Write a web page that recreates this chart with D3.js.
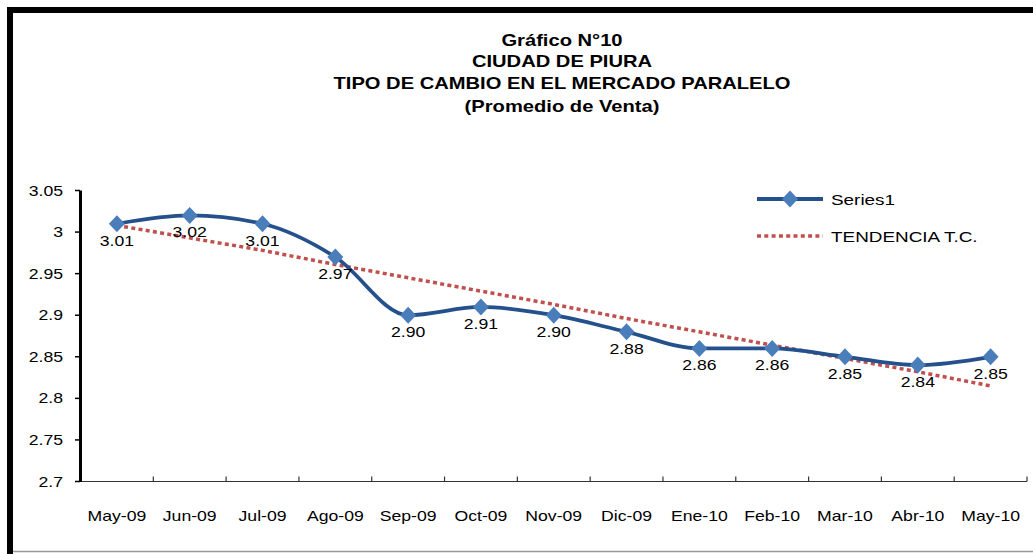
<!DOCTYPE html>
<html>
<head>
<meta charset="utf-8">
<script src="https://cdn.jsdelivr.net/npm/d3@7"></script>
<style>
  html, body { margin: 0; padding: 0; background: #fff; }
  svg { display: block; font-family: "Liberation Sans", Arial, sans-serif; }
</style>
</head>
<body>
<svg id="chart" width="1033" height="554"></svg>
<script>
const categories = ["May-09","Jun-09","Jul-09","Ago-09","Sep-09","Oct-09","Nov-09","Dic-09","Ene-10","Feb-10","Mar-10","Abr-10","May-10"];
const series1 = [3.01, 3.02, 3.01, 2.97, 2.90, 2.91, 2.90, 2.88, 2.86, 2.86, 2.85, 2.84, 2.85];
const seriesLabels = ["3.01","3.02","3.01","2.97","2.90","2.91","2.90","2.88","2.86","2.86","2.85","2.84","2.85"];
const trend = [3.008, 2.993, 2.978, 2.961, 2.945, 2.929, 2.913, 2.896, 2.880, 2.864, 2.848, 2.832, 2.815];
const yTicks = [2.7, 2.75, 2.8, 2.85, 2.9, 2.95, 3, 3.05];
const titleLines = ["Gráfico N°10", "CIUDAD DE PIURA", "TIPO DE CAMBIO EN EL MERCADO PARALELO", "(Promedio de Venta)"];
const legendNames = ["Series1", "TENDENCIA T.C."];

const SX = 1.26; // horizontal stretch of the original text rendering
const svg = d3.select("#chart");

function stext(g, x, y, str, opts) {
  return g.append("text")
    .attr("transform", `translate(${x},${y}) scale(${SX},1)`)
    .attr("x", 0).attr("y", 0)
    .attr("font-size", opts.size || 14)
    .attr("font-weight", opts.weight || "normal")
    .attr("text-anchor", opts.anchor || "middle")
    .attr("fill", opts.fill || "#000")
    .text(str);
}

// frame
svg.append("rect").attr("x", 7).attr("y", 7).attr("width", 1040).attr("height", 6).attr("fill", "#000");
svg.append("rect").attr("x", 7).attr("y", 7).attr("width", 6).attr("height", 560).attr("fill", "#000");
svg.append("line").attr("x1", 13).attr("x2", 1033).attr("y1", 551.5).attr("y2", 551.5).attr("stroke", "#999").attr("stroke-width", 1.5);

// title
const titleY = [46, 67, 89, 112];
titleLines.forEach((l, i) => stext(svg, 562, titleY[i], l, {size: 16, weight: "bold"}));

// scales
const x = d3.scaleBand().domain(categories).range([80.5, 1027]);
const y = d3.scaleLinear().domain([2.7, 3.05]).range([481.5, 190.5]);
const cx = d => x(d) + x.bandwidth() / 2;

// x axis line & ticks (inward)
svg.append("line").attr("x1", 80).attr("x2", 1027).attr("y1", y(2.7)).attr("y2", y(2.7))
  .attr("stroke", "#333").attr("stroke-width", 1.2);
const bounds = categories.map(c => x(c) + x.bandwidth());
svg.selectAll(".xt").data(bounds).enter().append("line")
  .attr("x1", d => d).attr("x2", d => d)
  .attr("y1", y(2.7)).attr("y2", y(2.7) - 5)
  .attr("stroke", "#333").attr("stroke-width", 1.2);
categories.forEach(c => stext(svg, cx(c), 521, c, {size: 14}));

// y axis
svg.append("line").attr("x1", 80.5).attr("x2", 80.5).attr("y1", y(3.05)).attr("y2", y(2.7) + 0.5)
  .attr("stroke", "#000").attr("stroke-width", 3);
yTicks.forEach(v => {
  svg.append("line").attr("x1", 75).attr("x2", 80).attr("y1", y(v)).attr("y2", y(v))
    .attr("stroke", "#000").attr("stroke-width", 1.5);
  stext(svg, 63, y(v) + 5, d3.format("")(v), {size: 14, anchor: "end"});
});

// trend (dotted red)
const trendLine = d3.line().x((d, i) => cx(categories[i])).y(d => y(d));
svg.append("path").datum(trend).attr("d", trendLine)
  .attr("fill", "none").attr("stroke", "#C0504D").attr("stroke-width", 3.5)
  .attr("stroke-dasharray", "4 3.3");

// series1
const sLine = d3.line().x((d, i) => cx(categories[i])).y(d => y(d)).curve(d3.curveMonotoneX);
svg.append("path").datum(series1).attr("d", sLine)
  .attr("fill", "none").attr("stroke", "#24508C").attr("stroke-width", 3.8);

const diamondPath = "M0,-8.5L8,0L0,8.5L-8,0Z";
svg.selectAll(".mk").data(series1).enter().append("path")
  .attr("d", diamondPath)
  .attr("transform", (d, i) => `translate(${cx(categories[i])},${y(d)})`)
  .attr("fill", "#4A7EBB");

series1.forEach((v, i) => stext(svg, cx(categories[i]), y(v) + 22, seriesLabels[i], {size: 14}));

// legend
const lg = svg.append("g");
lg.append("line").attr("x1", 757).attr("x2", 823).attr("y1", 199).attr("y2", 199)
  .attr("stroke", "#24508C").attr("stroke-width", 3.8);
lg.append("path").attr("d", diamondPath).attr("transform", "translate(790,199)").attr("fill", "#4A7EBB");
stext(lg, 831, 205, legendNames[0], {size: 15, anchor: "start"});
lg.append("line").attr("x1", 757).attr("x2", 823).attr("y1", 236).attr("y2", 236)
  .attr("stroke", "#C0504D").attr("stroke-width", 3.5).attr("stroke-dasharray", "4 3.3");
stext(lg, 831, 242, legendNames[1], {size: 15, anchor: "start"});
</script>
</body>
</html>
